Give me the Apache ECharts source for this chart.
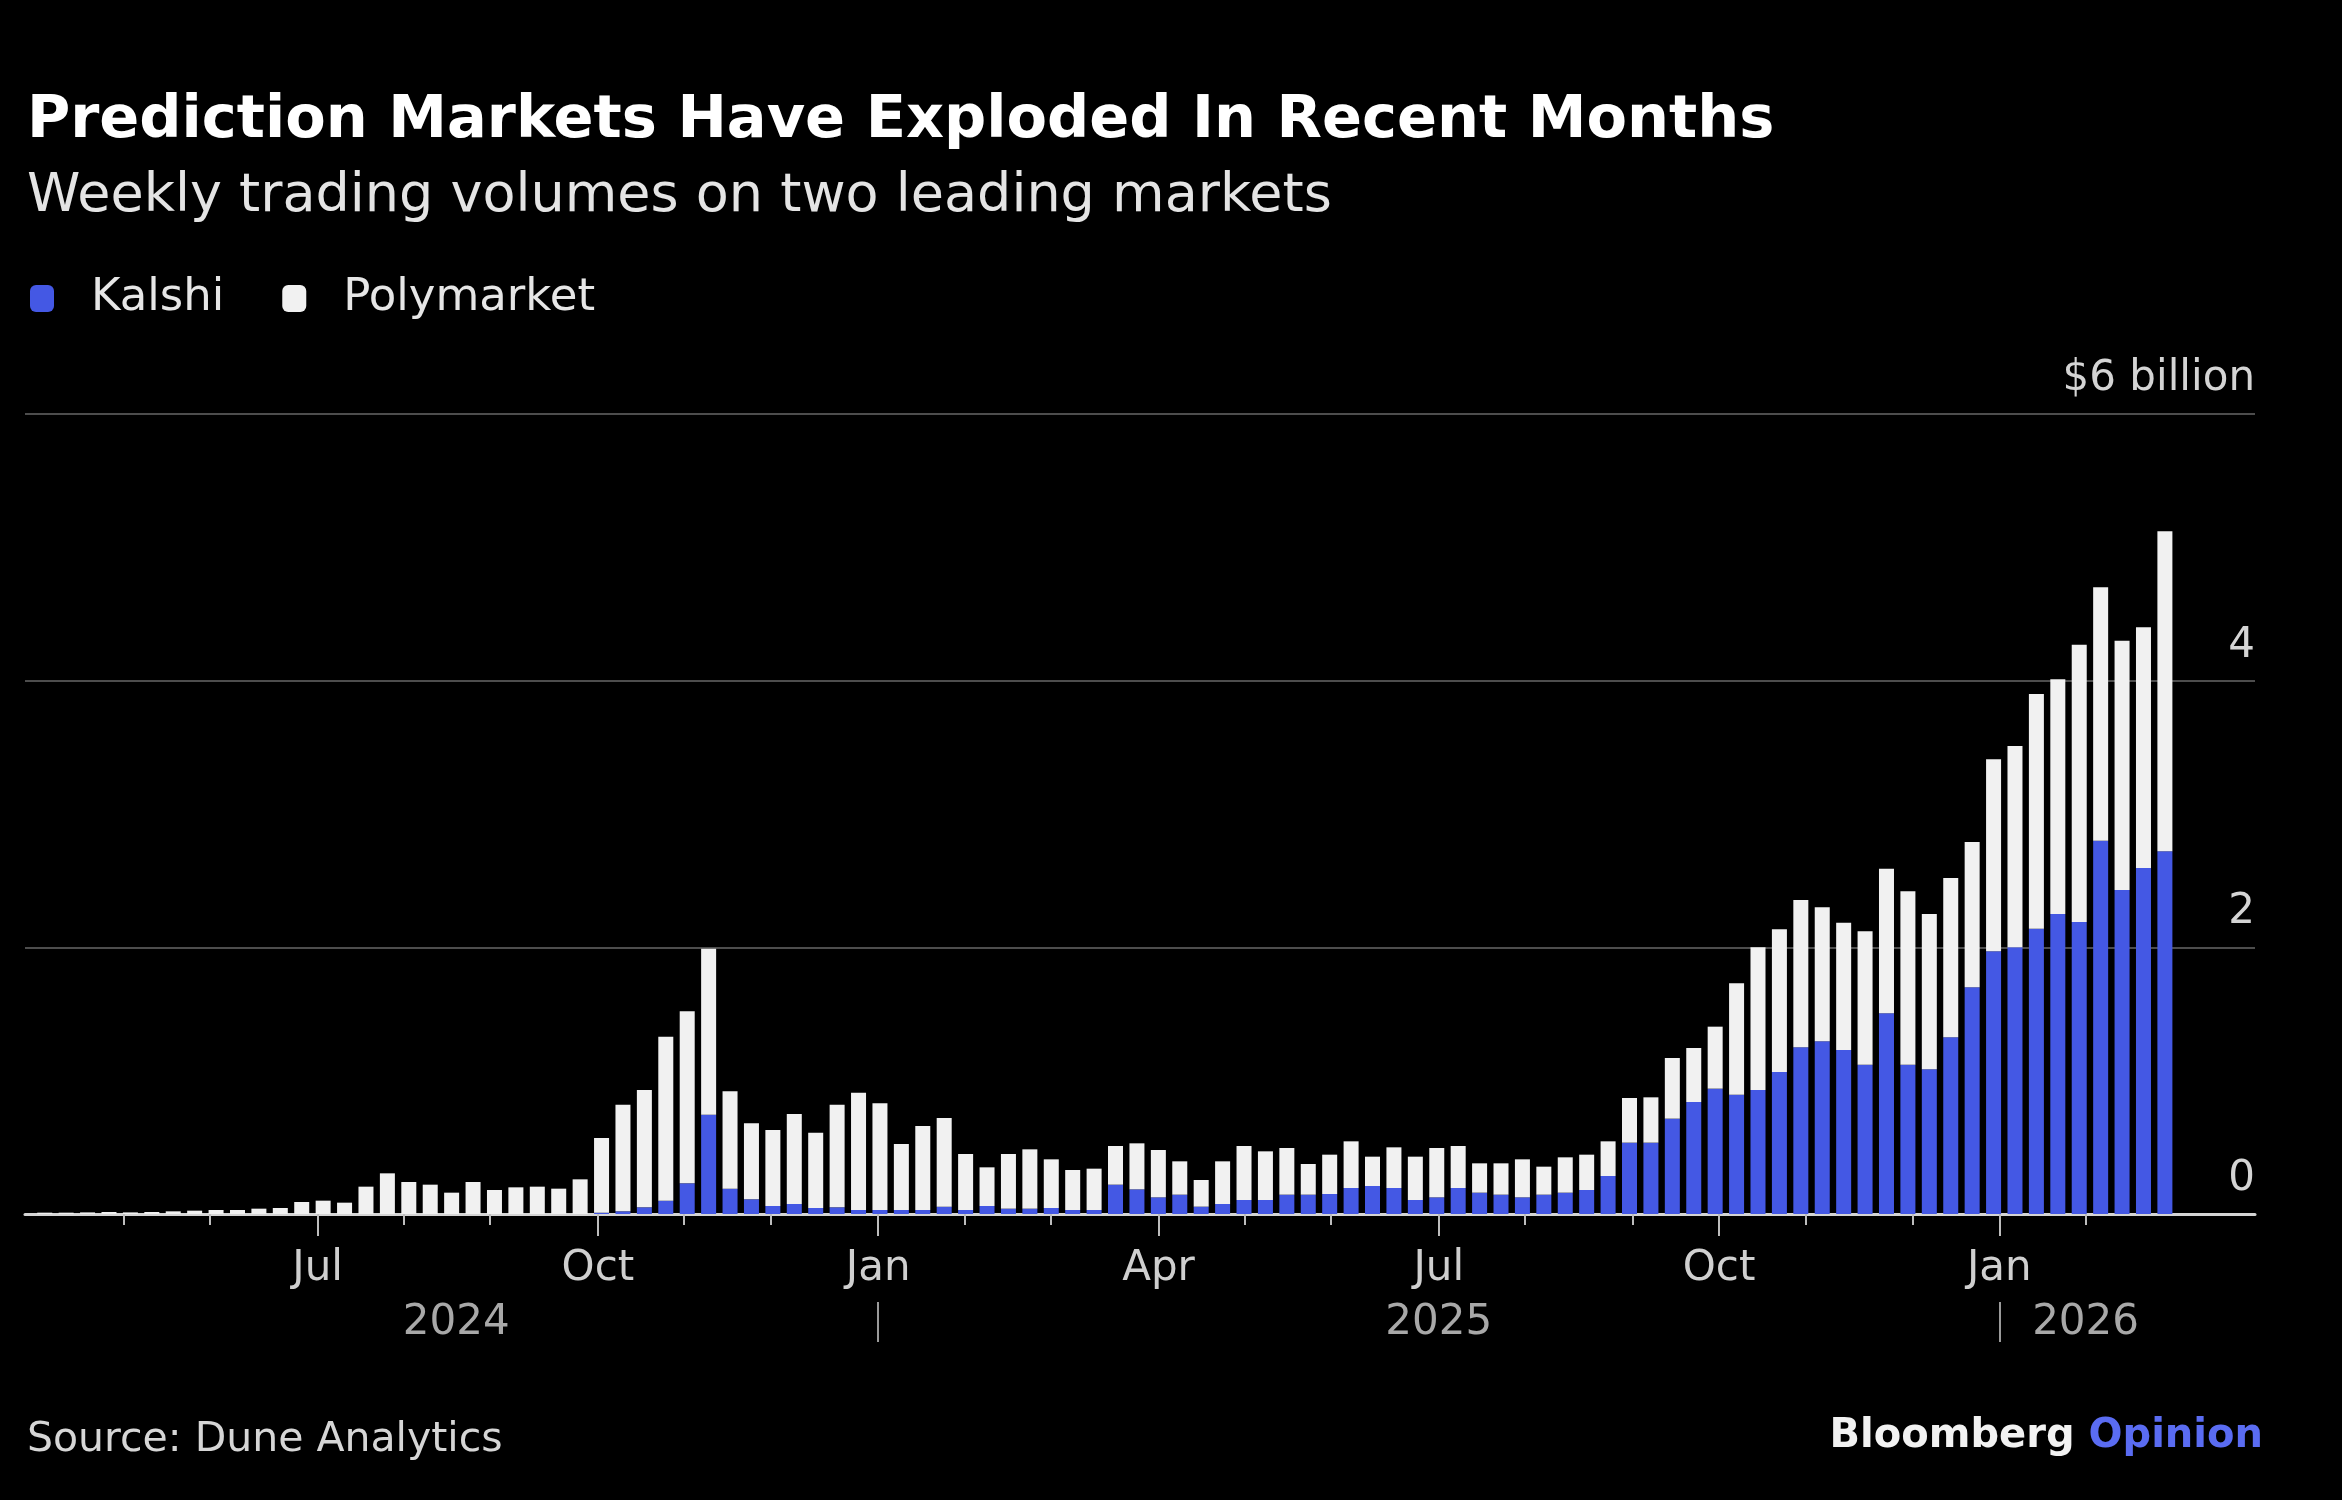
<!DOCTYPE html>
<html>
<head>
<meta charset="utf-8">
<title>Prediction Markets Have Exploded In Recent Months</title>
<script src="https://cdn.jsdelivr.net/npm/echarts@6/dist/echarts.min.js"></script>
<style>
  html, body { margin: 0; padding: 0; background: #000; }
  #chart { width: 2342px; height: 1500px; }
</style>
</head>
<body>
<div id="chart"></div>
<script>
// Weekly volumes, $ billion, one value per week starting on the Monday below
const firstWeek = '2024-04-01';

const kalshi = [
  0, 0, 0, 0, 0, 0, 0, 0, 0, 0,
  0, 0, 0, 0, 0, 0, 0, 0, 0, 0,
  0, 0, 0, 0, 0, 0, 0.01, 0.02, 0.05, 0.10,
  0.23, 0.745, 0.19, 0.11, 0.06, 0.075, 0.045, 0.05, 0.03, 0.03,
  0.03, 0.03, 0.055, 0.03, 0.06, 0.04, 0.04, 0.045, 0.03, 0.03,
  0.22, 0.185, 0.125, 0.145, 0.055, 0.075, 0.105, 0.105, 0.145, 0.145,
  0.15, 0.195, 0.21, 0.195, 0.105, 0.125, 0.195, 0.16, 0.145, 0.125,
  0.145, 0.16, 0.18, 0.285, 0.535, 0.535, 0.715, 0.84, 0.94, 0.895,
  0.93, 1.065, 1.25, 1.295, 1.23, 1.12, 1.505, 1.12, 1.085, 1.325,
  1.70, 1.97, 2.00, 2.14, 2.25, 2.19, 2.80, 2.43, 2.595, 2.72
];

const polymarket = [
  0.01, 0.01, 0.012, 0.015, 0.012, 0.015, 0.02, 0.025, 0.03, 0.03,
  0.04, 0.045, 0.09, 0.10, 0.085, 0.205, 0.305, 0.24, 0.22, 0.16,
  0.24, 0.18, 0.20, 0.205, 0.19, 0.26, 0.56, 0.80, 0.88, 1.23,
  1.29, 1.245, 0.73, 0.57, 0.57, 0.675, 0.565, 0.77, 0.88, 0.80,
  0.495, 0.63, 0.665, 0.42, 0.29, 0.41, 0.445, 0.365, 0.30, 0.31,
  0.29, 0.345, 0.355, 0.25, 0.20, 0.32, 0.405, 0.365, 0.35, 0.23,
  0.295, 0.35, 0.22, 0.305, 0.325, 0.37, 0.315, 0.22, 0.235, 0.285,
  0.21, 0.265, 0.265, 0.26, 0.335, 0.34, 0.455, 0.405, 0.465, 0.835,
  1.07, 1.07, 1.105, 1.005, 0.955, 1.0, 1.085, 1.30, 1.165, 1.195,
  1.09, 1.44, 1.51, 1.76, 1.76, 2.08, 1.90, 1.87, 1.805, 2.40
];

// x axis: quarter ticks with labels, monthly minor ticks, year row
const quarterTicks = ['2024-07-01', '2024-09-30', '2024-12-30', '2025-03-31', '2025-06-30', '2025-09-29', '2025-12-29'];
const quarterLabels = ['Jul', 'Oct', 'Jan', 'Apr', 'Jul', 'Oct', 'Jan'];
const monthTicks = ['2024-04-29', '2024-05-27', '2024-07-29', '2024-08-26', '2024-10-28', '2024-11-25',
  '2025-01-27', '2025-02-24', '2025-04-28', '2025-05-26', '2025-07-28', '2025-09-01',
  '2025-10-27', '2025-12-01', '2026-01-26'];
const yearSeparators = ['2024-12-30', '2025-12-29'];
const yearLabels = ['2024', '2025', '2026'];
const yearLabelDates = ['2024-08-15', '2025-06-30', '2026-01-26'];
const axisStart = '2024-03-28';
const axisEnd = '2026-03-22';

const FONT = 'DejaVu Sans';
const BLUE = '#4458e4';
const WHITE = '#f1f1f1';

const DAY = 86400000;
const toTime = s => Date.UTC(+s.slice(0, 4), +s.slice(5, 7) - 1, +s.slice(8, 10));
const week0 = toTime(firstWeek);
const weeks = kalshi.map((_, i) => week0 + 7 * i * DAY);

const quarterTimes = quarterTicks.map(toTime);
const monthTimes = monthTicks.map(toTime);
const sepTimes = yearSeparators.map(toTime);
const yearTimes = yearLabelDates.map(toTime);
const xMin = toTime(axisStart);
const xMax = toTime(axisEnd);

const pick = (times, labels) => v => {
  const k = times.findIndex(t => Math.abs(t - v) < DAY / 2);
  return k >= 0 ? labels[k] : '';
};

const chart = echarts.init(document.getElementById('chart'));

// helper axes share the date range of the bar axis and only carry ticks / labels
const helperX = extra => Object.assign({
  type: 'value',
  gridIndex: 0,
  position: 'bottom',
  min: xMin,
  max: xMax,
  axisLine: { show: false },
  splitLine: { show: false }
}, extra);

const option = {
  backgroundColor: '#000',
  animation: false,
  title: [
    {
      text: 'Prediction Markets Have Exploded In Recent Months',
      left: 27, top: 92, padding: 0,
      textStyle: { color: '#ffffff', fontSize: 59, fontWeight: 'bold', fontFamily: FONT }
    },
    {
      text: 'Weekly trading volumes on two leading markets',
      left: 27, top: 170, padding: 0,
      textStyle: { color: '#e4e4e4', fontSize: 54, fontWeight: 'normal', fontFamily: FONT }
    },
    {
      text: 'Source: Dune Analytics',
      left: 27, top: 1420, padding: 0,
      textStyle: { color: '#d6d6d6', fontSize: 41, fontWeight: 'normal', fontFamily: FONT }
    },
    {
      text: '{b|Bloomberg }{o|Opinion}',
      right: 79, top: 1417, padding: 0,
      textStyle: {
        rich: {
          b: { color: '#f2f2f2', fontSize: 40, fontWeight: 'bold', fontFamily: FONT },
          o: { color: '#5a6cf2', fontSize: 40, fontWeight: 'bold', fontFamily: FONT }
        }
      }
    }
  ],
  legend: {
    data: ['Kalshi', 'Polymarket'],
    left: 30, top: 276, padding: 0,
    icon: 'roundRect',
    itemWidth: 24, itemHeight: 27, itemGap: 58,
    selectedMode: false,
    textStyle: { color: '#e6e6e6', fontSize: 45, fontFamily: FONT, padding: [0, 0, 0, 32] }
  },
  grid: { left: 25, right: 87, top: 414, bottom: 286, containLabel: false, outerBoundsMode: 'none' },
  xAxis: [
    {
      type: 'time',
      gridIndex: 0,
      position: 'bottom',
      min: xMin,
      max: xMax,
      axisLine: { show: true, lineStyle: { color: '#d4d4d4', width: 3 } },
      axisTick: { show: false },
      axisLabel: { show: false },
      splitLine: { show: false }
    },
    helperX({
      axisTick: { show: true, customValues: quarterTimes, length: 22, lineStyle: { color: '#bdbdbd', width: 2 } },
      axisLabel: {
        show: true, customValues: quarterTimes, margin: 34,
        color: '#cfcfcf', fontSize: 42, fontFamily: FONT,
        formatter: pick(quarterTimes, quarterLabels)
      }
    }),
    helperX({
      axisTick: { show: true, customValues: monthTimes, length: 11, lineStyle: { color: '#bdbdbd', width: 2 } },
      axisLabel: { show: false, customValues: monthTimes }
    }),
    helperX({
      offset: 88,
      axisTick: { show: true, customValues: sepTimes, length: 40, lineStyle: { color: '#9a9a9a', width: 2 } },
      axisLabel: {
        show: true, customValues: yearTimes, margin: 0,
        color: '#a8a8a8', fontSize: 42, fontFamily: FONT,
        formatter: pick(yearTimes, yearLabels)
      }
    })
  ],
  yAxis: {
    type: 'value',
    position: 'right',
    min: 0, max: 6, interval: 2,
    axisLine: { show: false },
    axisTick: { show: false },
    splitLine: { show: true, lineStyle: { color: '#4d4d4d', width: 2 } },
    axisLabel: {
      inside: true, margin: 0,
      verticalAlign: 'bottom',
      padding: [0, 0, 14, 0],
      color: '#d4d4d4', fontSize: 42, fontFamily: FONT,
      formatter: v => (v === 6 ? '$6 billion' : String(v))
    }
  },
  series: [
    {
      name: 'Kalshi',
      type: 'bar',
      stack: 'volume',
      xAxisIndex: 0,
      barWidth: 15,
      itemStyle: { color: BLUE },
      data: weeks.map((t, i) => [t, kalshi[i]])
    },
    {
      name: 'Polymarket',
      type: 'bar',
      stack: 'volume',
      xAxisIndex: 0,
      barWidth: 15,
      itemStyle: { color: WHITE },
      data: weeks.map((t, i) => [t, polymarket[i]])
    }
  ]
};

chart.setOption(option);

window.addEventListener('resize', () => {
  chart.resize();
});
</script>
</body>
</html>
